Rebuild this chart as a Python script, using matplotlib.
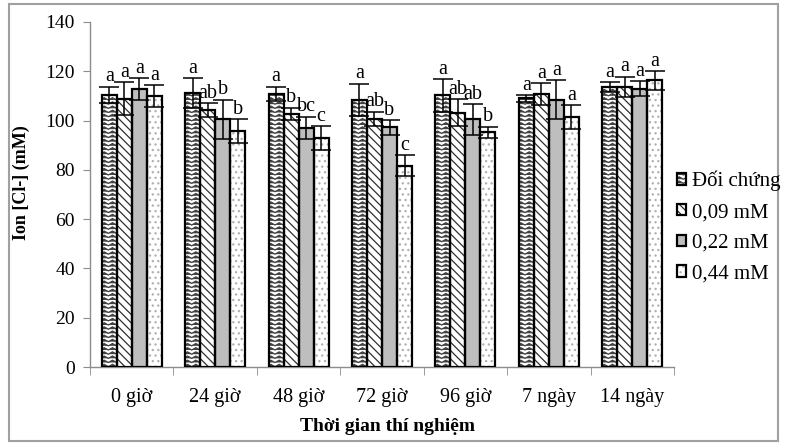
import numpy as np
import matplotlib
matplotlib.use("Agg")
import matplotlib.pyplot as plt
import matplotlib.hatch as mhatch
from matplotlib.path import Path
from matplotlib.patches import Rectangle
from matplotlib.legend_handler import HandlerTuple

# ---------------- data ----------------
groups = ['0 giờ', '24 giờ', '48 giờ', '72 giờ', '96 giờ', '7 ngày', '14 ngày']
series_names = ['Đối chứng', '0,09 mM', '0,22 mM', '0,44 mM']
doi_chung = [110.4, 111.3, 110.8, 108.4, 110.2, 109.0, 113.5]
doi_chung_err = [3.3, 6.0, 3.0, 6.5, 6.7, 1.4, 2.0]
m009 = [108.8, 104.3, 102.7, 100.8, 103.2, 110.8, 113.7]
m009_err = [6.7, 2.7, 2.5, 2.8, 5.4, 4.3, 4.1]
m022 = [112.7, 100.5, 97.1, 97.2, 100.5, 108.4, 113.0]
m022_err = [4.5, 7.9, 4.5, 3.0, 6.2, 7.9, 3.0]
m044 = [110.0, 95.8, 93.0, 81.7, 95.2, 101.3, 116.3]
m044_err = [4.3, 4.7, 4.8, 4.3, 2.3, 4.9, 3.7]
letters_dc = ['a', 'a', 'a', 'a', 'a', 'a', 'a']
letters_009 = ['a', 'ab', 'b', 'ab', 'ab', 'a', 'a']
letters_022 = ['a', 'b', 'bc', 'b', 'ab', 'a', 'a']
letters_044 = ['a', 'b', 'c', 'c', 'b', 'a', 'a']
y_ticks = [0, 20, 40, 60, 80, 100, 120, 140]


# ---------------- custom zigzag hatch (replaces '*') ----------------
class ZigZagHatch(mhatch.HatchPatternBase):
    def __init__(self, hatch, density):
        self.num_rows = int(hatch.count('*') * density)
        self.num_teeth = max(1, self.num_rows // 2)
        self.pts = 2 * self.num_teeth + 1
        self.num_vertices = (self.num_rows + 1) * self.pts if self.num_rows else 0

    def set_vertices_and_codes(self, vertices, codes):
        n = self.num_rows
        xs = np.linspace(0, 1, self.pts)
        amp = 0.55 / n
        odd = (np.arange(self.pts) % 2 == 1)
        for i in range(n + 1):
            y0 = i / n
            sl = slice(i * self.pts, (i + 1) * self.pts)
            vertices[sl, 0] = xs
            vertices[sl, 1] = y0 + np.where(odd, amp, 0.0)
            codes[sl] = Path.LINETO
            codes[i * self.pts] = Path.MOVETO

    get_vertices_and_codes = set_vertices_and_codes


mhatch._hatch_types = [t for t in mhatch._hatch_types
                       if t is not mhatch.Stars] + [ZigZagHatch]

plt.rcParams['font.family'] = ['Liberation Serif', 'DejaVu Serif']
plt.rcParams['hatch.linewidth'] = 0.9

W, H = 785, 445
fig = plt.figure(figsize=(W / 100, H / 100), dpi=100)
ax = fig.add_axes([90 / W, 1 - 367 / H, 584 / W, 345 / H])

values = [doi_chung, m009, m022, m044]
errors = [doi_chung_err, m009_err, m022_err, m044_err]
letters = [letters_dc, letters_009, letters_022, letters_044]
styles = [
    dict(color='white', hatch='****', pat='#404040'),
    dict(color='white', hatch='\\\\\\\\', pat='#303030'),
    dict(color='#BEBEBE', hatch=None, pat='#BEBEBE'),
    dict(color='white', hatch='...', pat='#B0B0B0'),
]

x = np.arange(len(groups))
bw = 0.18
handles = []
for i, (vals, errs, labs, st) in enumerate(zip(values, errors, letters, styles)):
    pos = x + (i - 1.5) * bw
    fill = ax.bar(pos, vals, bw, color=st['color'], edgecolor=st['pat'],
                  hatch=st['hatch'], linewidth=0, zorder=2)
    outline = ax.bar(pos, vals, bw, fill=False, edgecolor='black',
                     linewidth=1.6, zorder=3)
    ax.errorbar(pos, vals, yerr=errs, fmt='none', ecolor='black',
                elinewidth=1.1, capsize=7, capthick=1.1, zorder=4)
    for px, v, e, t in zip(pos, vals, errs, labs):
        ax.text(px, v + e + 2.2, t, ha='center', va='baseline',
                fontsize=14.5, zorder=5)
    handles.append((fill[0], outline[0]))

ax.set_xlim(-0.5, len(groups) - 0.5)
ax.set_ylim(0, 140)
ax.set_yticks(y_ticks)
ax.set_xticks(x)
ax.set_xticklabels(groups)
ax.set_xticks(np.arange(len(groups) + 1) - 0.5, minor=True)

for s in ['top', 'right']:
    ax.spines[s].set_visible(False)
for s in ['left', 'bottom']:
    ax.spines[s].set_color('#8C8C8C')
    ax.spines[s].set_linewidth(1.0)

ax.tick_params(axis='y', direction='out', length=5, color='#8C8C8C',
               labelsize=14, pad=6)
ax.tick_params(axis='x', which='major', length=0, labelsize=14.5, pad=15)
ax.tick_params(axis='x', which='minor', direction='out', length=6,
               color='#8C8C8C')

ax.set_ylabel('Ion [Cl-] (mM)', fontsize=13, fontweight='bold')
ax.yaxis.set_label_coords(-0.103, 0.535)
ax.set_xlabel('Thời gian thí nghiệm', fontsize=14, fontweight='bold')
ax.xaxis.set_label_coords(0.51, -0.148)

leg = fig.legend(handles, series_names,
                 handler_map={tuple: HandlerTuple(ndivide=1, pad=0)},
                 loc='upper left', bbox_to_anchor=(677 / W, 1 - 171 / H),
                 frameon=False, fontsize=15, handlelength=0.45,
                 handleheight=0.45, handletextpad=0.25, labelspacing=0.56,
                 borderpad=0, borderaxespad=0)

fig.patches.append(Rectangle((9 / W, 4 / H), 769 / W, 437 / H,
                             transform=fig.transFigure, fill=False,
                             edgecolor='#A0A0A0', linewidth=1.5))

fig.savefig('out.png', dpi=100)
